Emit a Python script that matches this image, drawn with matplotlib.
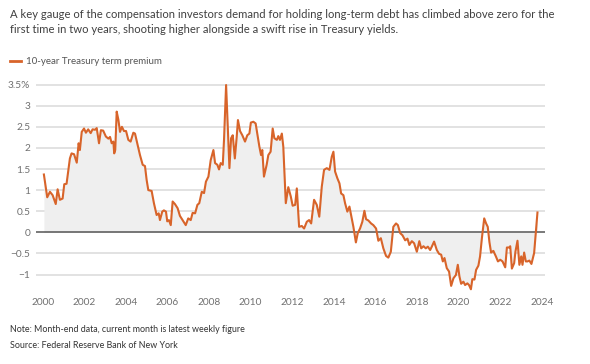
import numpy as np
import matplotlib
matplotlib.use("Agg")
import matplotlib.pyplot as plt

plt.rcParams['font.family'] = ['Lato', 'DejaVu Sans']

# 10-year Treasury term premium (decimal year, percent)
years = [2000.06, 2000.22, 2000.35, 2000.48, 2000.63, 2000.72, 2000.83, 2000.96,
         2001.04, 2001.15, 2001.31, 2001.39, 2001.51, 2001.64, 2001.73, 2001.79,
         2001.88, 2001.99, 2002.08, 2002.19, 2002.31, 2002.40, 2002.52, 2002.60,
         2002.71, 2002.80, 2002.91, 2003.04, 2003.16, 2003.24, 2003.32, 2003.40,
         2003.44, 2003.49, 2003.56, 2003.64, 2003.72, 2003.81, 2003.91, 2004.01,
         2004.12, 2004.23, 2004.36, 2004.44, 2004.55, 2004.68, 2004.81, 2004.92,
         2005.00, 2005.08, 2005.24, 2005.35, 2005.48, 2005.58, 2005.64, 2005.75,
         2005.83, 2005.93, 2005.99, 2006.07, 2006.16, 2006.25, 2006.36, 2006.49,
         2006.60, 2006.73, 2006.88, 2007.00, 2007.12, 2007.21, 2007.33, 2007.44,
         2007.53, 2007.65, 2007.76, 2007.85, 2007.97, 2008.08, 2008.21, 2008.29,
         2008.40, 2008.48, 2008.56, 2008.66, 2008.72, 2008.82, 2008.91, 2008.98,
         2009.06, 2009.14, 2009.24, 2009.33, 2009.39, 2009.49, 2009.60, 2009.73,
         2009.84, 2009.94, 2010.01, 2010.13, 2010.24, 2010.32, 2010.42, 2010.50,
         2010.56, 2010.64, 2010.77, 2010.85, 2010.96, 2011.06, 2011.14, 2011.26,
         2011.33, 2011.41, 2011.50, 2011.57, 2011.69, 2011.81, 2011.93, 2012.02,
         2012.14, 2012.22, 2012.33, 2012.46, 2012.57, 2012.70, 2012.81, 2012.91,
         2013.05, 2013.18, 2013.30, 2013.42, 2013.53, 2013.66, 2013.79, 2013.90,
         2013.98, 2014.06, 2014.17, 2014.27, 2014.35, 2014.46, 2014.54, 2014.65,
         2014.75, 2014.83, 2014.94, 2015.06, 2015.15, 2015.26, 2015.37, 2015.47,
         2015.55, 2015.66, 2015.79, 2015.90, 2016.03, 2016.14, 2016.26, 2016.38,
         2016.51, 2016.62, 2016.74, 2016.86, 2016.99, 2017.08, 2017.19, 2017.30,
         2017.43, 2017.54, 2017.63, 2017.75, 2017.86, 2017.99, 2018.11, 2018.20,
         2018.31, 2018.42, 2018.52, 2018.63, 2018.71, 2018.82, 2018.95, 2019.06,
         2019.16, 2019.24, 2019.32, 2019.43, 2019.54, 2019.64, 2019.75, 2019.87,
         2019.96, 2020.04, 2020.12, 2020.23, 2020.31, 2020.42, 2020.50, 2020.59,
         2020.66, 2020.76, 2020.84, 2020.95, 2021.03, 2021.12, 2021.23, 2021.32,
         2021.40, 2021.48, 2021.56, 2021.67, 2021.79, 2021.89, 2022.00, 2022.11,
         2022.24, 2022.32, 2022.43, 2022.48, 2022.56, 2022.67, 2022.73, 2022.83,
         2022.92, 2023.01, 2023.07, 2023.15, 2023.23, 2023.31, 2023.40, 2023.50,
         2023.63, 2023.79]
premium = [1.37, 0.83, 0.96, 0.88, 0.67, 1.02, 0.77, 0.80,
           1.14, 1.15, 1.75, 1.87, 1.85, 1.65, 2.11, 1.95,
           2.38, 2.46, 2.36, 2.44, 2.35, 2.44, 2.43, 2.47,
           2.11, 2.42, 2.41, 2.27, 2.22, 2.26, 2.11, 2.15,
           1.87, 1.95, 2.86, 2.67, 2.38, 2.50, 2.40, 2.40,
           2.19, 2.15, 2.36, 2.34, 2.11, 1.83, 1.60, 1.57,
           1.24, 1.00, 0.98, 0.69, 0.41, 0.45, 0.29, 0.49,
           0.52, 0.49, 0.26, 0.29, 0.17, 0.73, 0.67, 0.57,
           0.39, 0.29, 0.17, 0.33, 0.29, 0.46, 0.45, 0.65,
           0.69, 0.96, 0.93, 1.20, 1.32, 1.71, 1.95, 1.64,
           1.60, 1.49, 1.64, 1.60, 2.19, 3.49, 2.38, 1.52,
           2.23, 2.30, 1.75, 2.26, 2.66, 2.40, 2.30, 2.15,
           2.30, 2.34, 2.60, 2.62, 2.58, 2.34, 2.03, 1.83,
           1.95, 1.32, 1.60, 1.83, 1.91, 2.46, 2.23, 2.19,
           2.28, 2.19, 2.34, 2.03, 0.69, 1.07, 0.85, 0.63,
           0.65, 1.04, 0.13, 0.15, 0.09, 0.25, 0.29, 0.21,
           0.77, 0.65, 0.37, 1.08, 1.48, 1.52, 1.48, 1.79,
           1.91, 1.44, 1.28, 1.16, 0.92, 0.88, 0.69, 0.49,
           0.61, 0.41, 0.13, -0.24, -0.02, 0.09, 0.25, 0.51,
           0.31, 0.28, 0.21, 0.17, 0.09, -0.20, -0.14, -0.38,
           -0.56, -0.60, -0.46, 0.13, 0.21, 0.17, -0.02, -0.07,
           -0.19, -0.15, -0.30, -0.21, -0.26, -0.46, -0.21, -0.38,
           -0.33, -0.38, -0.34, -0.42, -0.34, -0.22, -0.42, -0.51,
           -0.53, -0.69, -0.61, -0.85, -0.93, -1.27, -1.09, -1.01,
           -0.77, -1.05, -1.22, -1.17, -1.25, -1.21, -1.25, -1.35,
           -1.11, -1.12, -0.89, -0.79, -0.57, -0.13, 0.33, 0.21,
           0.13, -0.23, -0.48, -0.44, -0.57, -0.69, -0.65, -0.69,
           -0.83, -0.36, -0.36, -0.33, -0.86, -0.73, -0.46, -0.20,
           -0.77, -0.57, -0.77, -0.48, -0.69, -0.69, -0.67, -0.75,
           -0.49, 0.47]

yticks = [-1, -0.5, 0, 0.5, 1, 1.5, 2, 2.5, 3, 3.5]
ytick_labels = ["\u22121", "\u22120.5", "0", "0.5", "1", "1.5", "2", "2.5", "3", "3.5%"]
xticks = list(range(2000, 2025, 2))

title = ("A key gauge of the compensation investors demand for holding long-term debt has climbed above zero for the\n"
         "first time in two years, shooting higher alongside a swift rise in Treasury yields.")
legend_label = "10-year Treasury term premium"
note = "Note: Month-end data, current month is latest weekly figure"
source = "Source: Federal Reserve Bank of New York"

orange = "#d8642a"

fig = plt.figure(figsize=(5.9, 3.64), dpi=100)
ax = fig.add_axes([0.061, 0.1995, 0.863, 0.575])

x = np.array(years)
y = np.array(premium)
ax.fill_between(x, y, 0, color="#efefef", linewidth=0, zorder=1)
for t in yticks:
    if t != 0:
        ax.axhline(t, color="#dddddd", linewidth=1.2, zorder=0)
ax.axhline(0, color="#555555", linewidth=1.1, zorder=2)
ax.plot(x, y, color=orange, linewidth=1.5, zorder=3, solid_joinstyle="round")

ax.set_xlim(1999.68, 2024.16)
ax.set_ylim(-1.4, 3.56)
ax.set_yticks(yticks)
ax.set_yticklabels(ytick_labels)
ax.set_xticks(xticks)
ax.set_xticklabels([str(v) for v in xticks])
ax.tick_params(axis="both", length=0, labelsize=7.3, colors="#707070")
ax.tick_params(axis="y", pad=4)
ax.tick_params(axis="x", pad=5)
for s in ax.spines.values():
    s.set_visible(False)

fig.text(10 / 590, 1 - 9 / 364, title, ha="left", va="top", fontsize=8.15,
         color="#404040", linespacing=1.45)
fig.lines.append(plt.Line2D([10 / 590, 21 / 590], [1 - 61 / 364, 1 - 61 / 364],
                            color=orange, linewidth=2, transform=fig.transFigure))
fig.text(26 / 590, 1 - 61 / 364, legend_label, ha="left", va="center",
         fontsize=7, color="#555555")
fig.text(10 / 590, 1 - 329 / 364, note, ha="left", va="center", fontsize=6.4, color="#333333")
fig.text(10 / 590, 1 - 345 / 364, source, ha="left", va="center", fontsize=6.4, color="#333333")

fig.savefig("out.png", dpi=100, facecolor="white")
